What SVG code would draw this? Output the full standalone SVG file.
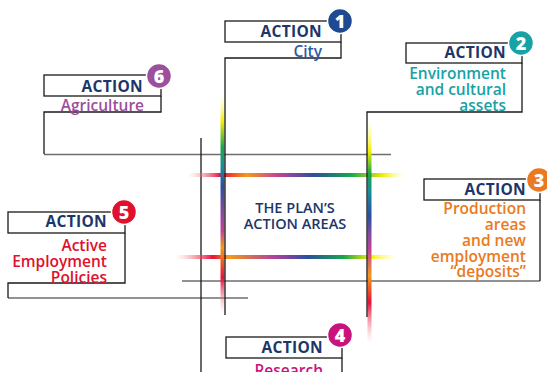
<svg xmlns="http://www.w3.org/2000/svg" width="547" height="372" viewBox="0 0 547 372">
<style>
.box{fill:#fff;stroke:#1a1a1a;stroke-width:1.3}
.ln{fill:none;stroke:#1a1a1a;stroke-width:1.3}
.gl{fill:none;stroke:#6e6e6e;stroke-width:1.5}
.act{font-family:"Open Sans","DejaVu Sans",sans-serif;font-weight:700;font-size:15.5px;letter-spacing:0.3px;fill:#1c3668;text-anchor:end}
.sub{font-family:"Open Sans","DejaVu Sans",sans-serif;font-weight:600;font-size:15.5px;text-anchor:end}
.num{font-family:"Open Sans","DejaVu Sans",sans-serif;font-weight:800;font-size:18px;fill:#fff;text-anchor:middle}
.ctr{font-family:"Open Sans","DejaVu Sans",sans-serif;font-weight:600;font-size:14.5px;fill:#1c3668;text-anchor:middle}
.rb{fill:none;stroke-width:4}
</style>
<defs>
<linearGradient id="gv1" gradientUnits="userSpaceOnUse" x1="0" y1="95" x2="0" y2="313">
<stop offset="0" stop-color="#ffff80" stop-opacity="0"/>
<stop offset="0.12" stop-color="#f5ee00"/>
<stop offset="0.24" stop-color="#19a64a"/>
<stop offset="0.33" stop-color="#1a8c9a"/>
<stop offset="0.42" stop-color="#2a4f9e"/>
<stop offset="0.52" stop-color="#7a4a9e"/>
<stop offset="0.62" stop-color="#c0409a"/>
<stop offset="0.70" stop-color="#f39a1a"/>
<stop offset="0.84" stop-color="#e8103a"/>
<stop offset="1" stop-color="#f7a0a0" stop-opacity="0"/>
</linearGradient>
<linearGradient id="gv2" gradientUnits="userSpaceOnUse" x1="0" y1="120" x2="0" y2="343">
<stop offset="0" stop-color="#ffff80" stop-opacity="0"/>
<stop offset="0.14" stop-color="#f5ee00"/>
<stop offset="0.24" stop-color="#19a64a"/>
<stop offset="0.32" stop-color="#1a8c9a"/>
<stop offset="0.43" stop-color="#2a4f9e"/>
<stop offset="0.52" stop-color="#8a4a9e"/>
<stop offset="0.58" stop-color="#c0409a"/>
<stop offset="0.70" stop-color="#f39a1a"/>
<stop offset="0.82" stop-color="#e8103a"/>
<stop offset="1" stop-color="#f7a0a0" stop-opacity="0"/>
</linearGradient>
<linearGradient id="gh1" gradientUnits="userSpaceOnUse" x1="188" y1="0" x2="405" y2="0">
<stop offset="0" stop-color="#f7a0a0" stop-opacity="0"/>
<stop offset="0.15" stop-color="#e8103a"/>
<stop offset="0.27" stop-color="#f39a1a"/>
<stop offset="0.42" stop-color="#c0409a"/>
<stop offset="0.58" stop-color="#2a4f9e"/>
<stop offset="0.75" stop-color="#19a64a"/>
<stop offset="0.9" stop-color="#f5ee00"/>
<stop offset="1" stop-color="#ffff80" stop-opacity="0"/>
</linearGradient>
<linearGradient id="gh2" gradientUnits="userSpaceOnUse" x1="175" y1="0" x2="397" y2="0">
<stop offset="0" stop-color="#f7a0a0" stop-opacity="0"/>
<stop offset="0.17" stop-color="#e8103a"/>
<stop offset="0.24" stop-color="#f39a1a"/>
<stop offset="0.45" stop-color="#b0409e"/>
<stop offset="0.60" stop-color="#2a4f9e"/>
<stop offset="0.76" stop-color="#19a64a"/>
<stop offset="0.88" stop-color="#f5ee00"/>
<stop offset="1" stop-color="#ffff80" stop-opacity="0"/>
</linearGradient>
</defs>
<g id="connectors">
<line class="gl" x1="44" y1="154.5" x2="391" y2="154.5"/>
<line class="gl" x1="182" y1="281" x2="540" y2="281"/>
<line class="gl" x1="8" y1="298" x2="248" y2="298"/>
<line class="ln" x1="201" y1="138" x2="201" y2="372"/>
<line class="rb" stroke="url(#gh1)" x1="188" y1="175" x2="405" y2="175"/>
<line class="rb" stroke="url(#gh2)" x1="175" y1="257" x2="397" y2="257"/>
<line class="rb" stroke="url(#gv1)" x1="222.5" y1="95" x2="222.5" y2="313"/>
<line class="rb" stroke="url(#gv2)" x1="369.5" y1="120" x2="369.5" y2="343"/>
<polyline class="ln" points="341,42 341,58 225,58 225,315"/>
<polyline class="ln" points="522,63 522,112 367,112 367,317"/>
<polyline class="ln" points="161,96 161,112 44,112 44,154"/>
<polyline class="ln" points="125,233 125,283 8,283 8,298"/>
<polyline class="ln" points="540,200 540,281"/>
<polyline class="ln" points="342,358 342,372"/>
</g>
<g id="center">
<text class="ctr" x="295" y="213">THE PLAN’S</text>
<text class="ctr" x="295" y="229">ACTION AREAS</text>
</g>
<g id="node1">
<rect class="box" x="225" y="21" width="116" height="21"/>
<text class="act" x="322" y="37">ACTION</text>
<text class="sub" x="322" y="57" fill="#2f5ca6">City</text>
<circle cx="340" cy="21" r="12.5" fill="#1f4a93" stroke="#fff" stroke-width="1.5"/>
<text class="num" x="340" y="27.5">1</text>
</g>
<g id="node2">
<rect class="box" x="406" y="43" width="116" height="20"/>
<text class="act" x="506" y="58">ACTION</text>
<text class="sub" fill="#17a2a6"><tspan x="506" y="79">Environment</tspan><tspan x="506" y="95">and cultural</tspan><tspan x="506" y="111">assets</tspan></text>
<circle cx="521" cy="43" r="12.5" fill="#17a2a6" stroke="#fff" stroke-width="1.5"/>
<text class="num" x="521" y="49.5">2</text>
</g>
<g id="node3">
<rect class="box" x="424" y="179" width="116" height="21"/>
<text class="act" x="526" y="195">ACTION</text>
<text class="sub" fill="#ea7a22"><tspan x="526" y="214">Production</tspan><tspan x="526" y="230">areas</tspan><tspan x="526" y="246">and new</tspan><tspan x="526" y="262">employment</tspan><tspan x="526" y="277">“deposits”</tspan></text>
<circle cx="539" cy="180" r="12.5" fill="#ea7a22" stroke="#fff" stroke-width="1.5"/>
<text class="num" x="539" y="186.5">3</text>
</g>
<g id="node4">
<rect class="box" x="226" y="337" width="116" height="21"/>
<text class="act" x="323" y="353">ACTION</text>
<text class="sub" x="323" y="376" fill="#c8137d">Research</text>
<circle cx="340" cy="335" r="12.5" fill="#c8137d" stroke="#fff" stroke-width="1.5"/>
<text class="num" x="340" y="341.5">4</text>
</g>
<g id="node5">
<rect class="box" x="8" y="212" width="117" height="21"/>
<text class="act" x="107" y="227">ACTION</text>
<text class="sub" fill="#e0102e"><tspan x="107" y="251">Active</tspan><tspan x="107" y="267">Employment</tspan><tspan x="107" y="283">Policies</tspan></text>
<circle cx="124" cy="212" r="12.5" fill="#e0102e" stroke="#fff" stroke-width="1.5"/>
<text class="num" x="124" y="218.5">5</text>
</g>
<g id="node6">
<rect class="box" x="44" y="75" width="117" height="21"/>
<text class="act" x="143" y="92">ACTION</text>
<text class="sub" x="144" y="111" fill="#9b4f9c">Agriculture</text>
<circle cx="159" cy="76" r="12.5" fill="#9b4f9c" stroke="#fff" stroke-width="1.5"/>
<text class="num" x="159" y="82.5">6</text>
</g>
</svg>
